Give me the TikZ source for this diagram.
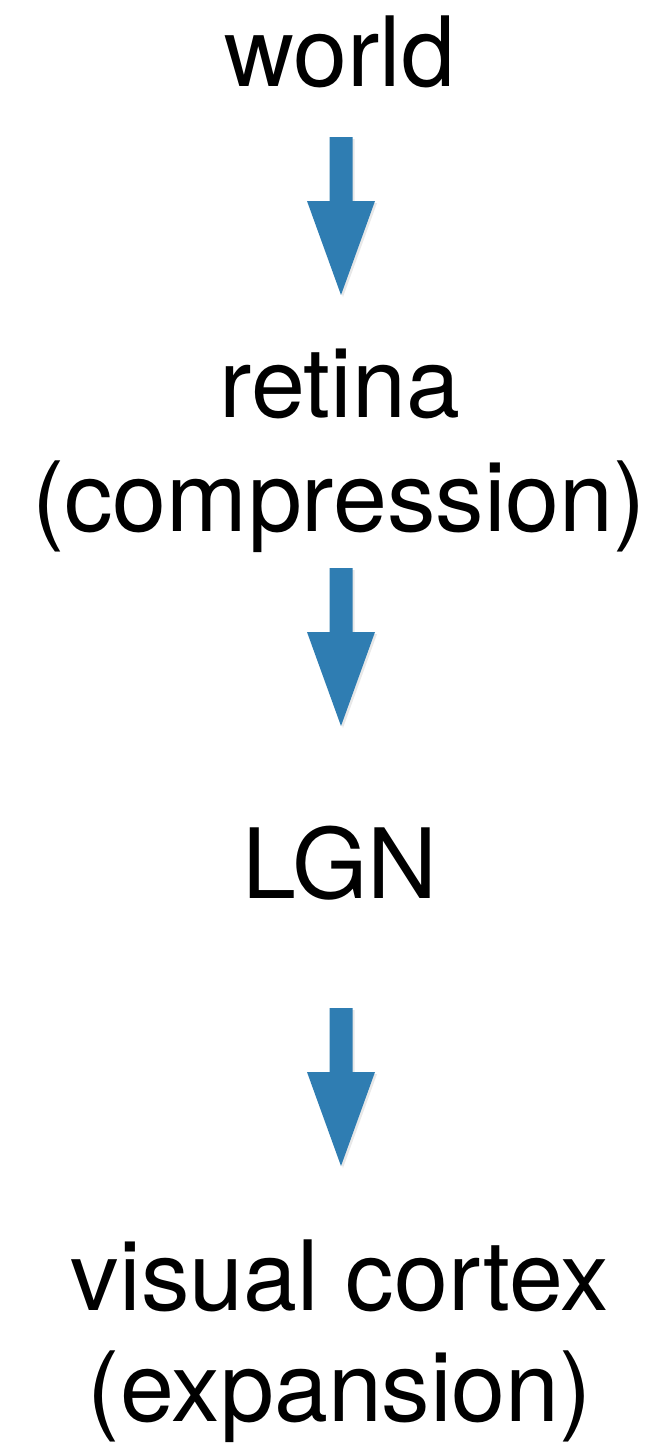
\documentclass[tikz,border=0pt]{standalone}
\usepackage{fontspec}
\setmainfont{TeX Gyre Heros}
\usetikzlibrary{shadows}
\definecolor{arrowblue}{RGB}{47,125,178}
\tikzset{
  lbl/.style={anchor=base, inner sep=0pt, font=\fontsize{97}{112}\selectfont},
  blockarrow/.pic={
    \fill[arrowblue, drop shadow={opacity=0.18, shadow xshift=2pt, shadow yshift=-2pt}]
      (-11.5pt,0) -- (11.5pt,0) -- (11.5pt,-64pt) -- (34pt,-64pt) -- (0,-158pt)
      -- (-34pt,-64pt) -- (-11.5pt,-64pt) -- cycle;
  }
}
\begin{document}
\begin{tikzpicture}[x=1pt,y=1pt]
\useasboundingbox[fill=white] (0,0) rectangle (670,-1445);
\node[lbl] (world) at (340,-86) {world};
\node[lbl] (retina) at (340,-417) {retina};
\node[lbl] (comp) at (339,-531) {(compression)};
\node[lbl] (lgn) at (340,-898) {LGN};
\node[lbl] (visual) at (340,-1310) {visual cortex};
\node[lbl] (expan) at (340,-1421) {(expansion)};
\coordinate (a1) at (341,-137);
\coordinate (a2) at (341,-568);
\coordinate (a3) at (341,-1008);
\pic at (a1) {blockarrow};
\pic at (a2) {blockarrow};
\pic at (a3) {blockarrow};
\end{tikzpicture}
\end{document}
